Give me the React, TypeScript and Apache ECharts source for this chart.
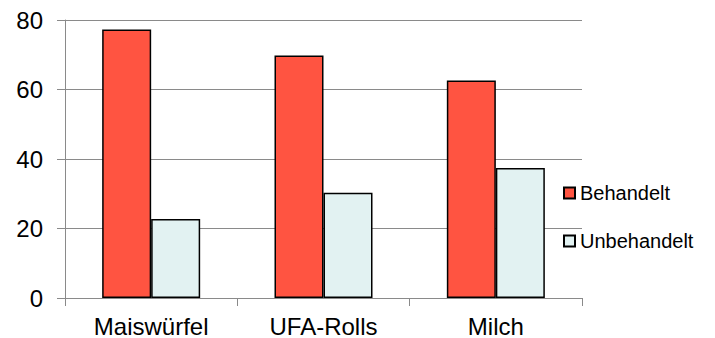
import React, { useEffect, useRef } from "react";
import * as echarts from "echarts";

const categories = ["Maiswürfel", "UFA-Rolls", "Milch"];
const behandelt = [77.3, 69.8, 62.6];
const unbehandelt = [22.7, 30.3, 37.4];
const seriesNames = ["Behandelt", "Unbehandelt"];

const FONT = "'Liberation Sans', Arial, sans-serif";
const GRAY = "#8a8a8a";

export default function App() {
  const ref = useRef<HTMLDivElement>(null);
  useEffect(() => {
    if (!ref.current) return;
    const chart = echarts.init(ref.current, null, { renderer: "svg" });
    chart.setOption({
      animation: false,
      backgroundColor: "#ffffff",
      textStyle: { fontFamily: FONT },
      grid: { left: 65, top: 20, right: 133, bottom: 40, containLabel: false },
      legend: {
        orient: "vertical",
        left: 563,
        top: 183,
        padding: 0,
        itemWidth: 11,
        itemHeight: 11,
        itemGap: 28,
        icon: "rect",
        textStyle: { fontFamily: FONT, fontSize: 20, lineHeight: 20, color: "#000" },
        data: seriesNames,
      },
      xAxis: {
        type: "category",
        data: categories,
        axisLine: { show: true, lineStyle: { color: GRAY, width: 1 } },
        axisTick: { show: true, length: 8, lineStyle: { color: GRAY, width: 1 } },
        axisLabel: { fontFamily: FONT, fontSize: 24, color: "#000", margin: 16 },
        splitLine: { show: false },
      },
      yAxis: {
        type: "value",
        min: 0,
        max: 80,
        interval: 20,
        axisLine: { show: true, lineStyle: { color: GRAY, width: 1 } },
        axisTick: { show: true, length: 8, lineStyle: { color: GRAY, width: 1 } },
        axisLabel: { fontFamily: FONT, fontSize: 24, color: "#000", margin: 22 },
        splitLine: { show: true, lineStyle: { color: GRAY, width: 1 } },
      },
      series: [
        {
          name: seriesNames[0],
          type: "bar",
          data: behandelt,
          barWidth: 49,
          barGap: "0%",
          itemStyle: { color: "#FF5441", borderColor: "#000", borderWidth: 1.5 },
        },
        {
          name: seriesNames[1],
          type: "bar",
          data: unbehandelt,
          barWidth: 49,
          barGap: "0%",
          itemStyle: { color: "#E2F2F2", borderColor: "#000", borderWidth: 1.5 },
        },
      ],
    });
    return () => chart.dispose();
  }, []);
  return (
    <div
      ref={ref}
      style={{ position: "fixed", left: 0, top: 0, width: 715, height: 338 }}
    />
  );
}
